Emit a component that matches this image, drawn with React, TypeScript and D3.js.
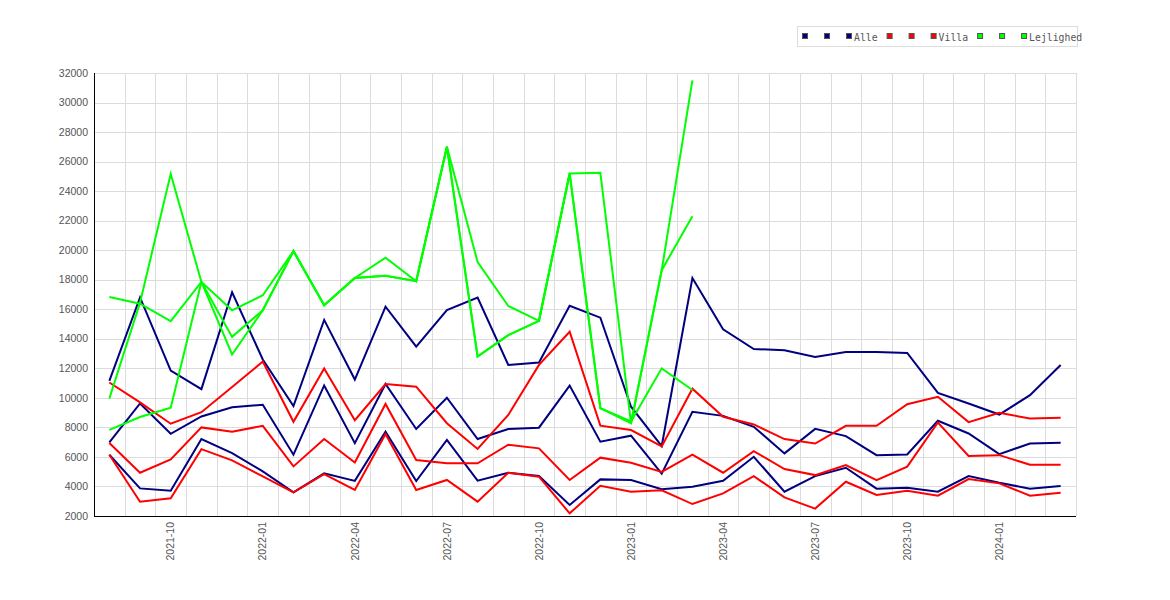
import { useEffect, useRef } from "react";
import * as d3 from "d3";

// months on the x axis (one band per month)
const months = [
    "2021-08", "2021-09", "2021-10", "2021-11", "2021-12",
    "2022-01", "2022-02", "2022-03", "2022-04", "2022-05", "2022-06",
    "2022-07", "2022-08", "2022-09", "2022-10", "2022-11", "2022-12",
    "2023-01", "2023-02", "2023-03", "2023-04", "2023-05", "2023-06",
    "2023-07", "2023-08", "2023-09", "2023-10", "2023-11", "2023-12",
    "2024-01", "2024-02", "2024-03",
];

const tickLabels = [
    "2021-10", "2022-01", "2022-04", "2022-07", "2022-10",
    "2023-01", "2023-04", "2023-07", "2023-10", "2024-01",
];

const yTicks = [2000, 4000, 6000, 8000, 10000, 12000, 14000, 16000,
    18000, 20000, 22000, 24000, 26000, 28000, 30000, 32000];

// Alle
const alleA = [11150, 16800, 11850, 10590, 17150, 12600, 9450, 15280, 11240, 16180, 13470,
    15950, 16790, 12230, 12400, 16240, 15430, 9400, 6740, 18110, 14640, 13310, 13220,
    12770, 13110, 13110, 13040, 10340, 9620, 8870, 10180, 12230];
const alleB = [6980, 9620, 7570, 8740, 9370, 9530, 6150, 10840, 6930, 10940, 7890,
    10010, 7210, 7890, 7980, 10830, 7030, 7440, 4870, 9060, 8780, 8040, 6240,
    7900, 7410, 6120, 6170, 8450, 7590, 6190, 6910, 6960];
const alleC = [6150, 3870, 3710, 7210, 6260, 5020, 3600, 4890, 4380, 7710, 4370,
    7150, 4390, 4930, 4710, 2750, 4480, 4440, 3810, 3980, 4390, 6010, 3650,
    4700, 5270, 3850, 3920, 3650, 4700, 4250, 3850, 4030];

// Villa
const villaA = [11040, 9690, 8250, 9030, 10730, 12460, 8380, 11990, 8490, 10940, 10760,
    8280, 6540, 8840, 12230, 14480, 8120, 7820, 6710, 10620, 8720, 8200, 7210,
    6910, 8110, 8110, 9570, 10070, 8360, 8990, 8600, 8650];
const villaB = [6940, 4930, 5830, 8000, 7700, 8110, 5360, 7210, 5620, 9590, 5790,
    5570, 5570, 6830, 6580, 4440, 5950, 5610, 4990, 6150, 4930, 6390, 5180,
    4770, 5450, 4430, 5340, 8330, 6060, 6120, 5470, 5470];
const villaC = [6150, 2970, 3200, 6530, 5770, 4680, 3600, 4840, 3770, 7550, 3760,
    4440, 2970, 4930, 4660, 2180, 4050, 3650, 3740, 2810, 3530, 4700, 3260,
    2500, 4320, 3420, 3710, 3380, 4500, 4210, 3380, 3580];

// Lejlighed (no values after 2023-03)
const lejlA = [16830, 16380, 15190, 17850, 15930, 16950, 19940, 16270, 18120, 19490, 17900,
    27000, 19200, 16220, 15220, 25190, 25240, 8280, 18650, 31500,
    null, null, null, null, null, null, null, null, null, null, null, null];
const lejlB = [7830, 8700, 9330, 17850, 12940, 15930, 19940, 16270, 18120, 18270, 17900,
    27000, 12800, 14250, 15220, 25190, 9300, 8280, 18650, 22300,
    null, null, null, null, null, null, null, null, null, null, null, null];
const lejlC = [9960, 16450, 25170, 17850, 14130, 15930, 19940, 16270, 18120, 18270, 17900,
    27000, 12800, 14250, 15220, 25190, 9300, 8400, 12000, 10530,
    null, null, null, null, null, null, null, null, null, null, null, null];

const groups = [
    { name: "Alle", color: "#000080", series: [alleA, alleB, alleC] },
    { name: "Villa", color: "#ff0000", series: [villaA, villaB, villaC] },
    { name: "Lejlighed", color: "#00ff00", series: [lejlA, lejlB, lejlC] },
];

export default function App() {
    const svgRef = useRef<SVGSVGElement>(null);

    useEffect(() => {
        const width = 1170, height = 600;
        const margin = { top: 73, right: 94, bottom: 84, left: 94 };
        const w = width - margin.left - margin.right;
        const h = height - margin.top - margin.bottom;

        const svg = d3.select(svgRef.current);
        svg.selectAll("*").remove();
        svg.attr("width", width).attr("height", height);

        const g = svg.append("g").attr("transform", `translate(${margin.left},${margin.top})`);

        const x = d3.scaleBand().domain(months).range([0, w]);
        const y = d3.scaleLinear().domain([2000, 32000]).range([h, 0]);
        const cx = (m: string) => (x(m) || 0) + x.bandwidth() / 2;

        // grid
        g.append("g")
            .selectAll("line")
            .data(yTicks)
            .enter()
            .append("line")
            .attr("x1", 0).attr("x2", w)
            .attr("y1", (d) => Math.round(y(d)) + 0.5)
            .attr("y2", (d) => Math.round(y(d)) + 0.5)
            .attr("stroke", "#dcdcdc");
        g.append("g")
            .selectAll("line")
            .data(months)
            .enter()
            .append("line")
            .attr("x1", (d) => Math.round((x(d) || 0) + x.bandwidth()) + 0.5)
            .attr("x2", (d) => Math.round((x(d) || 0) + x.bandwidth()) + 0.5)
            .attr("y1", 0).attr("y2", h)
            .attr("stroke", "#dcdcdc");

        // lines
        const line = d3.line<number | null>()
            .defined((d) => d !== null)
            .x((_, i) => cx(months[i]))
            .y((d) => y(d as number));

        groups.forEach((grp) => {
            grp.series.forEach((s) => {
                g.append("path")
                    .datum(s)
                    .attr("fill", "none")
                    .attr("stroke", grp.color)
                    .attr("stroke-width", 2)
                    .attr("stroke-linejoin", "miter")
                    .attr("d", line);
            });
        });

        // axes
        g.append("line").attr("x1", 0.5).attr("x2", 0.5).attr("y1", 0).attr("y2", h + 0.5)
            .attr("stroke", "#000");
        g.append("line").attr("x1", 0).attr("x2", w).attr("y1", h + 0.5).attr("y2", h + 0.5)
            .attr("stroke", "#000");

        g.append("g")
            .selectAll("text")
            .data(yTicks)
            .enter()
            .append("text")
            .attr("x", -6)
            .attr("y", (d) => y(d))
            .attr("dy", "0.35em")
            .attr("text-anchor", "end")
            .attr("fill", "#555")
            .style("font-family", "'Liberation Sans', Arial, sans-serif")
            .style("font-size", "10.5px")
            .text((d) => d);

        g.append("g")
            .selectAll("text")
            .data(tickLabels)
            .enter()
            .append("text")
            .attr("transform", (d) => `translate(${cx(d)},${h + 6}) rotate(-90)`)
            .attr("dy", "0.35em")
            .attr("text-anchor", "end")
            .attr("fill", "#555")
            .style("font-family", "'Liberation Sans', Arial, sans-serif")
            .style("font-size", "10.5px")
            .text((d) => d);

        // legend: three swatches per group, the label sits on the last one
        const legend = svg.append("g");
        legend.append("rect")
            .attr("x", 797.5).attr("y", 26.5)
            .attr("width", 280).attr("height", 20)
            .attr("fill", "#fff").attr("stroke", "#dcdcdc");

        let lx = 802;
        groups.forEach((grp) => {
            grp.series.forEach((_, i) => {
                const label = i === 2 ? grp.name : "";
                legend.append("rect")
                    .attr("x", lx + 0.5).attr("y", 33.5)
                    .attr("width", 5).attr("height", 5)
                    .attr("fill", grp.color)
                    .attr("stroke", "#555");
                const t = legend.append("text")
                    .attr("x", lx + 8)
                    .attr("y", 41)
                    .attr("fill", "#555")
                    .style("font-family", "'DejaVu Sans Mono', monospace")
                    .style("font-size", "9.8px")
                    .text(label);
                const tw = label ? (t.node() as SVGTextElement).getComputedTextLength() : 0;
                lx += 8 + tw + (label ? 9 : 14);
            });
        });
    }, []);

    return (
        <div style={{ position: "fixed", left: 0, top: 0 }}>
            <svg ref={svgRef} style={{ display: "block", background: "#fff" }} />
        </div>
    );
}
